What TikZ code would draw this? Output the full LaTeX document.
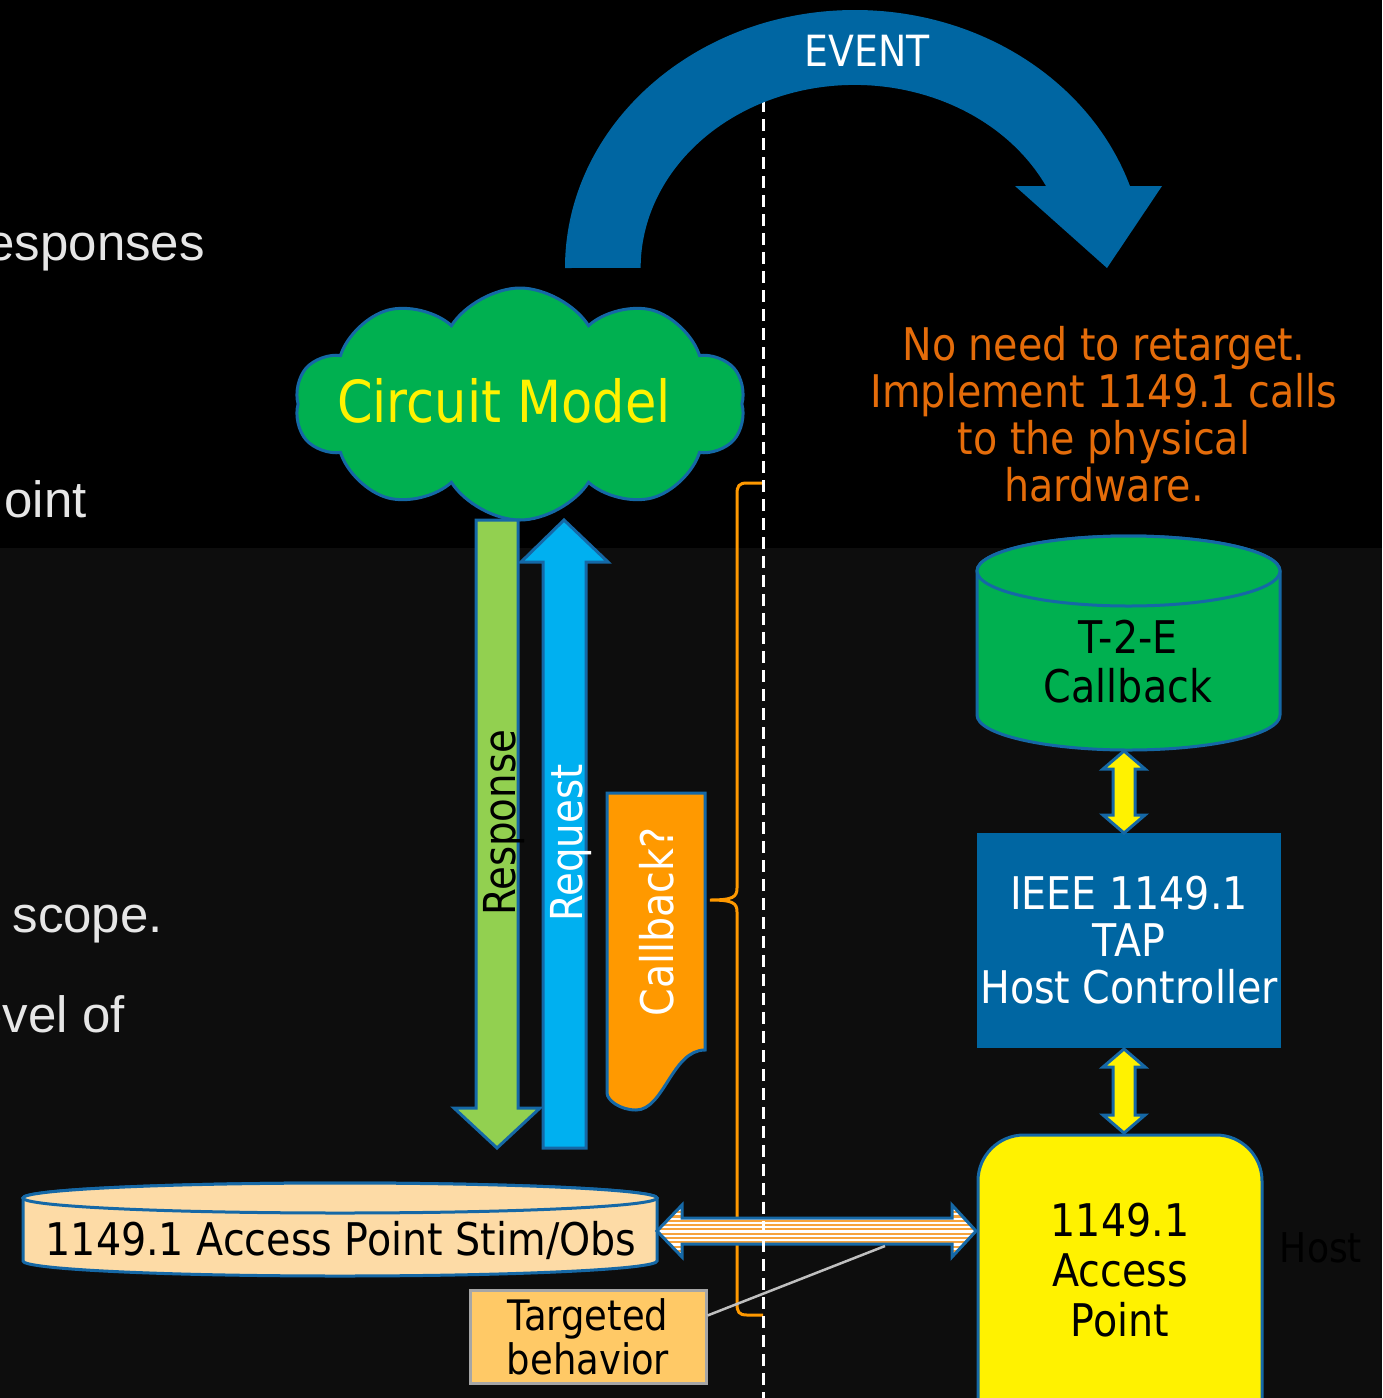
\documentclass[tikz,border=0pt]{standalone}
\usepackage{fontspec}
\setmainfont{DejaVu Sans}[FakeStretch=0.88]
\newfontfamily\slidefont{Liberation Sans}
\usetikzlibrary{shapes.symbols,calc}

\definecolor{evblue}{HTML}{0066A2}
\definecolor{edge}{HTML}{1568A6}
\definecolor{cgreen}{HTML}{00B050}
\definecolor{lgreen}{HTML}{92D050}
\definecolor{sky}{HTML}{00B0F0}
\definecolor{amber}{HTML}{FF9900}
\definecolor{stripe}{HTML}{F7A33C}
\definecolor{peach}{HTML}{FDDBA6}
\definecolor{note}{HTML}{FFC966}
\definecolor{notegray}{HTML}{A6A6A6}
\definecolor{linkgray}{HTML}{BFBFBF}
\definecolor{rust}{HTML}{E46C0A}
\definecolor{lowbg}{HTML}{0D0D0D}
\definecolor{slide}{HTML}{E6E6E6}

\tikzset{
  outl/.style={draw=edge, line width=3, line join=miter},
  lbl/.style={inner sep=0, align=center},
  side/.style={inner sep=0, anchor=base east, text=slide,
               font=\slidefont\fontsize{51}{51}\selectfont},
  yarrow/.style={outl, fill=yellow},
}

\begin{document}
\begin{tikzpicture}[x=1pt,y=-1pt]
\useasboundingbox (0,0) rectangle (1382,1398);
% slide background: dark header band and slightly lighter body
\fill[black] (0,0) rectangle (1382,548);
\fill[lowbg] (0,548) rectangle (1382,1398);

% bullet text running in from the left edge
\node[side] (txA) at (205,260) {esponses};
\node[side] (txB) at (87,517) {oint};
\node[side] (txC) at (163,932) {scope.};
\node[side] (txD) at (125,1032) {evel of};

% brace grouping the targeted part
\draw[amber, line width=3]
  (763,483) -- (747,483) .. controls (739,483) and (737,486) .. (737,494)
  -- (737,888) .. controls (737,897) and (733,900) .. (710,900)
  .. controls (733,900) and (737,903) .. (737,912)
  -- (737,1304) .. controls (737,1312) and (739,1315) .. (747,1315) -- (763,1315);

% stimulus / observation store
\draw[outl, fill=peach]
  (23,1261) arc[start angle=180, end angle=0, x radius=317, y radius=15]
  -- (657,1198) arc[start angle=0, end angle=-180, x radius=317, y radius=15] -- cycle;
\draw[outl, fill=peach] (340,1198) ellipse [x radius=317, y radius=15];
\node[lbl, anchor=base, font=\fontsize{45}{47}\selectfont] (stim) at (341,1255)
  {1149.1 Access Point Stim/Obs};

% striped link between the store and the access point
\begin{scope}
  \clip (657,1231) -- (682,1205) -- (682,1218) -- (952,1218) -- (952,1205) -- (976,1231)
    -- (952,1257) -- (952,1244) -- (682,1244) -- (682,1257) -- cycle;
  \fill[white] (650,1200) rectangle (980,1262);
  \foreach \yy in {1202.5,1206.8,...,1262} \fill[stripe] (650,\yy) rectangle (980,\yy+2.1);
\end{scope}
\draw[outl]
  (657,1231) -- (682,1205) -- (682,1218) -- (952,1218) -- (952,1205) -- (976,1231)
  -- (952,1257) -- (952,1244) -- (682,1244) -- (682,1257) -- cycle;

% host / target divider
\draw[white, line width=3, dash pattern=on 12 off 7] (763,100) -- (763,1398);

% EVENT arc arrow
\fill[evblue] (565,268) arc[start angle=180, end angle=341.5, x radius=290, y radius=258]
  -- (1162,186) -- (1107,268) -- (1015,186) -- (1046,186)
  arc[start angle=333.4, end angle=180, x radius=214, y radius=183] -- cycle;
\node[lbl, anchor=base, text=white, font=\fontsize{43}{45}\selectfont] (event) at (867,66) {EVENT};

% circuit model cloud
\node[cloud, cloud puffs=10, cloud puff arc=115, cloud ignores aspect, fill=cgreen, outl,
      minimum width=450, minimum height=232, inner sep=0] (cloud) at (520,404) {};
\node[lbl, anchor=base, text=yellow, font=\fontsize{58}{60}\selectfont] (cmodel) at (504,422)
  {Circuit Model};

% response (down) and request (up) arrows
\draw[outl, fill=lgreen] (476,520) -- (518,520) -- (518,1108) -- (540,1108) -- (497,1148)
  -- (454,1108) -- (476,1108) -- cycle;
\node[lbl, rotate=90, anchor=base, font=\fontsize{44}{46}\selectfont] (resp) at (515,823) {Response};
\draw[outl, fill=sky] (543,1148) -- (543,562) -- (521,562) -- (564,520) -- (608,562)
  -- (586,562) -- (586,1148) -- cycle;
\node[lbl, rotate=90, anchor=base, text=white, font=\fontsize{44}{46}\selectfont] (req) at (582,843) {Request};

% callback document
\draw[outl, fill=amber] (607,793) -- (705,793) -- (705,1050)
  .. controls (672,1050) and (664,1110) .. (636,1110)
  .. controls (620,1110) and (607,1100) .. (607,1093) -- cycle;
\node[lbl, rotate=90, anchor=base, text=white, font=\fontsize{45}{47}\selectfont] (cbq) at (673,922) {Callback?};

% targeted behavior note
\node[lbl, draw=notegray, line width=3, fill=note, minimum width=236, minimum height=93,
      font=\fontsize{42}{44}\selectfont] (targ) at (588,1336.5) {Targeted\\behavior};
\coordinate (lnk) at (885,1246);
\draw[linkgray, line width=2.5] ([yshift=21pt]targ.east) -- (lnk);

% right-hand note
\node[lbl, text=rust, font=\fontsize{45}{47}\selectfont] (retgt) at (1104,414)
  {No need to retarget.\\Implement 1149.1 calls\\to the physical\\hardware.};

% T-2-E callback store
\draw[outl, fill=cgreen]
  (977,715) arc[start angle=180, end angle=0, x radius=151.5, y radius=35]
  -- (1280,571) arc[start angle=0, end angle=-180, x radius=151.5, y radius=35] -- cycle;
\draw[outl, fill=cgreen] (1128.5,571) ellipse [x radius=151.5, y radius=35];
\node[lbl, font=\fontsize{45}{49}\selectfont] (t2e) at (1128,662) {T-2-E\\Callback};

% TAP host controller
\node[lbl, fill=evblue, text=white, minimum width=304, minimum height=215,
      font=\fontsize{45}{47}\selectfont] (tap) at (1129,940.5) {IEEE 1149.1\\TAP\\Host Controller};

% access point
\draw[outl, fill=yellow, rounded corners=46] (978,1135) rectangle (1262,1450);
\node[lbl, font=\fontsize{45}{50}\selectfont] (ap) at (1120,1270) {1149.1\\Access\\Point};

% yellow two-way links on the host side
\draw[yarrow] (1124,751) -- (1145,769) -- (1135,769) -- (1135,815) -- (1145,815) -- (1124,833)
  -- (1103,815) -- (1113,815) -- (1113,769) -- (1103,769) -- cycle;
\draw[yarrow] (1124,1049) -- (1145,1067) -- (1135,1067) -- (1135,1115) -- (1145,1115) -- (1124,1133)
  -- (1103,1115) -- (1113,1115) -- (1113,1067) -- (1103,1067) -- cycle;

% faint host label
\node[lbl, anchor=base, text=black, font=\fontsize{41}{43}\selectfont] (host) at (1321,1262) {Host};
\end{tikzpicture}
\end{document}
